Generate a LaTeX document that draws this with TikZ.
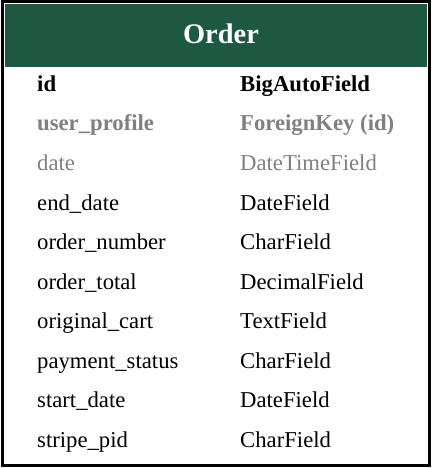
\documentclass[tikz,border=0pt]{standalone}
\usepackage{fontspec}
\setmainfont{Liberation Serif}
\definecolor{headgreen}{RGB}{29,88,65}
\definecolor{dimgray}{RGB}{128,128,128}
\tikzset{
  field/.style={anchor=base west, inner sep=0pt, font=\fontsize{22.7}{26}\selectfont},
  keyfield/.style={field, font=\fontsize{22.7}{26}\selectfont\bfseries},
  title/.style={anchor=base, inner sep=0pt, text=white, font=\fontsize{28.4}{32}\selectfont\bfseries},
}
\begin{document}
\begin{tikzpicture}[x=1pt, y=-1pt]
\useasboundingbox (0,0) rectangle (435,468);
% table frame and header band
\fill[headgreen] (5,4) rectangle (426.5,67.5);
\draw[line width=3pt] (2,2) rectangle (429.5,465.5);
\node[title] (title) at (221,43.5) {Order};
% field rows: name on the left, type on the right
\node[keyfield] (n1) at (37,91.5) {id};
\node[keyfield] (t1) at (240,91.5) {BigAutoField};
\node[keyfield, text=dimgray] (n2) at (37,131) {user\_profile};
\node[keyfield, text=dimgray] (t2) at (240,131) {ForeignKey (id)};
\node[field, text=dimgray] (n3) at (37,170.5) {date};
\node[field, text=dimgray] (t3) at (240,170.5) {DateTimeField};
\node[field] (n4) at (37,210) {end\_date};
\node[field] (t4) at (240,210) {DateField};
\node[field] (n5) at (37,249.5) {order\_number};
\node[field] (t5) at (240,249.5) {CharField};
\node[field] (n6) at (37,289) {order\_total};
\node[field] (t6) at (240,289) {DecimalField};
\node[field] (n7) at (37,328.5) {original\_cart};
\node[field] (t7) at (240,328.5) {TextField};
\node[field] (n8) at (37,368) {payment\_status};
\node[field] (t8) at (240,368) {CharField};
\node[field] (n9) at (37,407.5) {start\_date};
\node[field] (t9) at (240,407.5) {DateField};
\node[field] (n10) at (37,447) {stripe\_pid};
\node[field] (t10) at (240,447) {CharField};
\end{tikzpicture}
\end{document}
